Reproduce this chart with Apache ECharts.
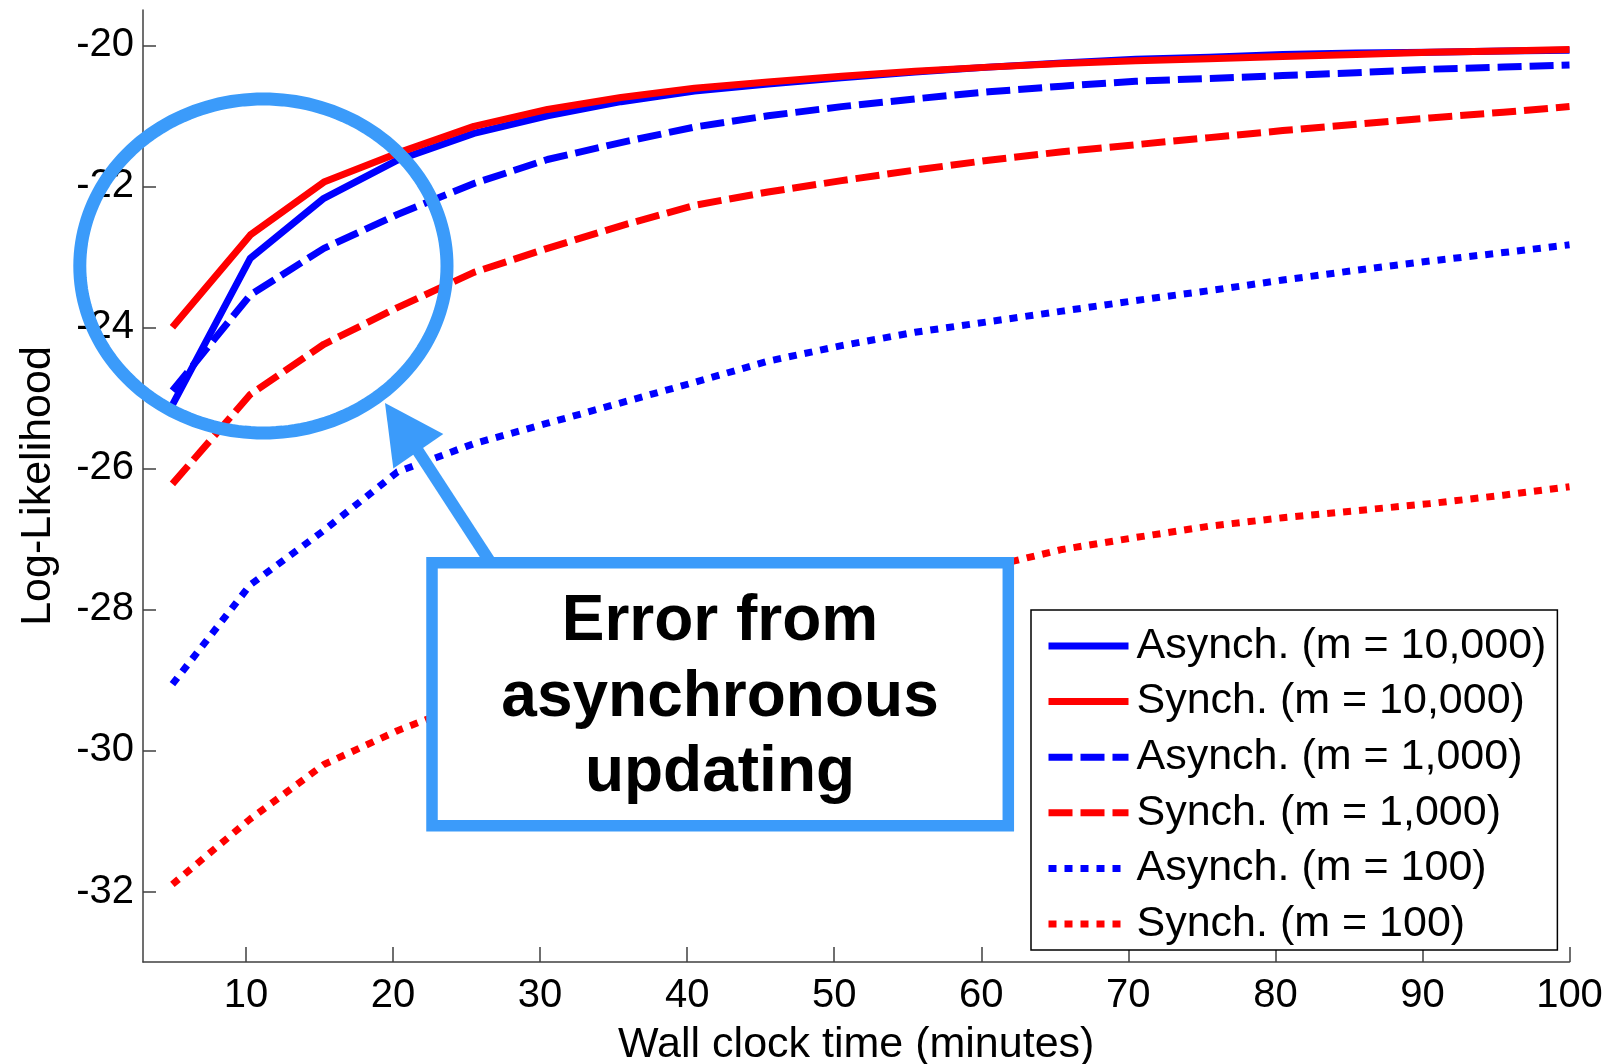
<!DOCTYPE html>
<html><head><meta charset="utf-8">
<script src="https://cdn.jsdelivr.net/npm/echarts@6/dist/echarts.min.js"></script>
<style>html,body{margin:0;padding:0;background:#fff}#c{width:1614px;height:1064px}</style>
</head><body><div id="c"></div>
<script>
// Wall clock time (minutes)
const times = [5, 10.3, 15.3, 20.3, 25.5, 30.5, 35.5, 40.5, 45.5, 50.5, 55.5, 60.5, 65.5, 70.5, 75.5, 80.5, 85.5, 90.5, 95.5, 100];
// Log-likelihood series
const asynch10000 = [-25.1, -23.02, -22.17, -21.63, -21.25, -21.0, -20.8, -20.65, -20.55, -20.46, -20.38, -20.31, -20.25, -20.2, -20.17, -20.13, -20.11, -20.1, -20.08, -20.07];
const synch10000  = [-24.0, -22.69, -21.94, -21.53, -21.15, -20.91, -20.74, -20.61, -20.52, -20.44, -20.37, -20.31, -20.26, -20.22, -20.19, -20.16, -20.13, -20.1, -20.08, -20.06];
const asynch1000  = [-24.9, -23.54, -22.88, -22.4, -21.96, -21.62, -21.38, -21.16, -21.0, -20.87, -20.76, -20.66, -20.58, -20.51, -20.47, -20.43, -20.39, -20.34, -20.31, -20.28];
const synch1000   = [-26.22, -24.95, -24.24, -23.72, -23.22, -22.88, -22.56, -22.27, -22.08, -21.92, -21.77, -21.63, -21.51, -21.41, -21.31, -21.21, -21.12, -21.03, -20.95, -20.87];
const asynch100   = [-29.06, -27.65, -26.88, -26.05, -25.65, -25.36, -25.07, -24.78, -24.48, -24.26, -24.07, -23.92, -23.77, -23.62, -23.48, -23.33, -23.19, -23.06, -22.94, -22.83];
const synch100    = [-31.9, -30.97, -30.2, -29.72, -29.3, -28.92, -28.6, -28.3, -28.05, -27.82, -27.6, -27.4, -27.15, -26.98, -26.82, -26.7, -26.6, -26.5, -26.38, -26.26];

const seriesNames = ['Asynch. (m = 10,000)', 'Synch. (m = 10,000)', 'Asynch. (m = 1,000)', 'Synch. (m = 1,000)', 'Asynch. (m = 100)', 'Synch. (m = 100)'];
const xTicks = [10, 20, 30, 40, 50, 60, 70, 80, 90, 100];
const yTicks = [-32, -30, -28, -26, -24, -22, -20];
const calloutText = 'Error from\nasynchronous\nupdating';

const FONT = '"Liberation Sans", Arial, sans-serif';
const BLUE = '#0000ff', RED = '#ff0000', CALLOUT = '#3b9bfa';
const DASH = [24, 8], DOT = [8, 8];

const seriesData = [asynch10000, synch10000, asynch1000, synch1000, asynch100, synch100];
const seriesColors = [BLUE, RED, BLUE, RED, BLUE, RED];
const seriesTypes = ['solid', 'solid', DASH, DASH, DOT, DOT];

const series = seriesData.map((arr, k) => ({
  name: seriesNames[k],
  type: 'line',
  symbol: 'none',
  symbolSize: 0,
  smooth: false,
  data: times.map((t, i) => [t, arr[i]]),
  lineStyle: { color: seriesColors[k], width: 7, type: seriesTypes[k], cap: 'butt', join: 'round' },
  itemStyle: { color: seriesColors[k] },
  z: 2
}));

// Ellipse outline (annotation)
const ellipsePts = [];
for (let i = 0; i < 180; i++) {
  const a = i / 180 * Math.PI * 2;
  ellipsePts.push([263.4 + 183.6 * Math.cos(a), 266 + 167 * Math.sin(a)]);
}

const axisLineStyle = { color: '#404040', width: 1.5 };

const chart = echarts.init(document.getElementById('c'), null, { renderer: 'canvas' });
chart.setOption({
  animation: false,
  backgroundColor: '#ffffff',
  grid: { left: 143, right: 44.5, top: 10, bottom: 102, containLabel: false, outerBoundsMode: 'none' },
  xAxis: {
    type: 'value', min: 3, max: 100,
    name: 'Wall clock time (minutes)', nameLocation: 'middle', nameGap: 62,
    nameTextStyle: { fontSize: 43, color: '#000', fontFamily: FONT },
    axisLine: { show: true, lineStyle: axisLineStyle },
    axisTick: { show: true, inside: true, length: 15, customValues: xTicks, lineStyle: axisLineStyle },
    axisLabel: { customValues: xTicks, fontSize: 40, color: '#000', fontFamily: FONT, margin: 14 },
    splitLine: { show: false }
  },
  yAxis: {
    type: 'value', min: -33, max: -19.5,
    name: 'Log-Likelihood', nameLocation: 'middle', nameGap: 83,
    nameTextStyle: { fontSize: 43, color: '#000', fontFamily: FONT },
    axisLine: { show: true, lineStyle: axisLineStyle },
    axisTick: { show: true, inside: true, length: 13, customValues: yTicks, lineStyle: axisLineStyle },
    axisLabel: { customValues: yTicks, fontSize: 40, color: '#000', fontFamily: FONT, margin: 9 },
    splitLine: { show: false }
  },
  legend: {
    data: seriesNames,
    orient: 'vertical',
    left: 1031, top: 610,
    itemWidth: 80, itemHeight: 14, itemGap: 11.6,
    padding: [14, 11, 4, 14],
    borderColor: '#000', borderWidth: 1.5, backgroundColor: '#fff',
    lineStyle: { width: 7 },
    itemStyle: { color: 'rgba(0,0,0,0)', borderColor: 'rgba(0,0,0,0)', borderWidth: 0 },
    textStyle: { fontSize: 43, color: '#000', fontFamily: FONT, lineHeight: 44, padding: [0, 0, 0, 3] },
    selectedMode: false
  },
  graphic: [
    { type: 'polygon', z: 10, shape: { points: ellipsePts }, style: { fill: null, stroke: CALLOUT, lineWidth: 13 } },
    { type: 'line', z: 10, shape: { x1: 490.8, y1: 563, x2: 416, y2: 448 }, style: { stroke: CALLOUT, lineWidth: 12 } },
    { type: 'polygon', z: 10, shape: { points: [[385, 403], [443.3, 434], [393.3, 468.6]] }, style: { fill: CALLOUT } },
    { type: 'rect', z: 11, shape: { x: 432, y: 562.7, width: 576.3, height: 263 }, style: { fill: '#fff', stroke: CALLOUT, lineWidth: 11.5 } },
    { type: 'text', z: 12, style: { text: calloutText, x: 720, y: 698, align: 'center', verticalAlign: 'middle', font: 'bold 64px ' + FONT, lineHeight: 75.7, fill: '#000' } }
  ],
  series: series
});
</script>
</body></html>
